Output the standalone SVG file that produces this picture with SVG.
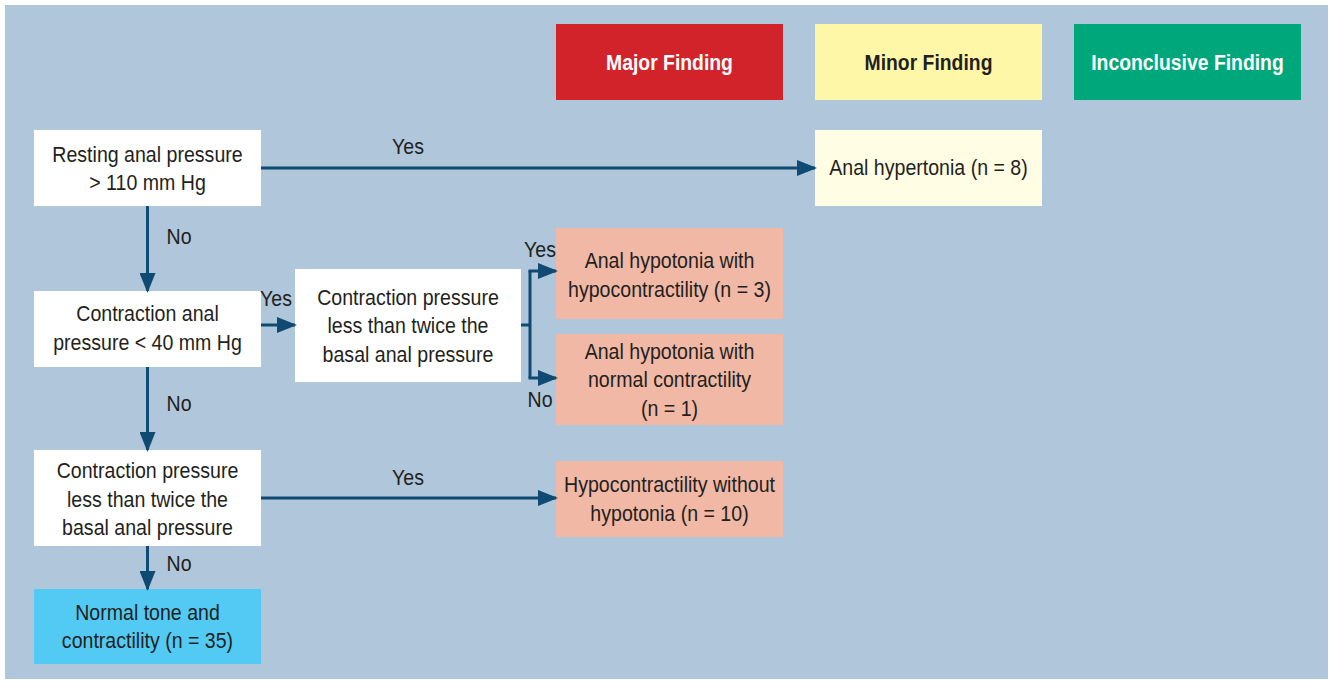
<svg xmlns="http://www.w3.org/2000/svg" width="1330" height="683" viewBox="0 0 1330 683">
<style>
text{font-family:"Liberation Sans",Arial,sans-serif;font-size:22px;fill:#231f20;text-anchor:middle}
.h{font-weight:bold}
.w{fill:#ffffff}
.c{fill:none;stroke:#0e4a72;stroke-width:3}
</style>
<defs>
<marker id="ah" markerUnits="userSpaceOnUse" markerWidth="20" markerHeight="16" refX="18" refY="8" orient="auto">
<path d="M0,0 L20,8 L0,16 Z" fill="#0e4a72"/>
</marker>
</defs>
<rect x="0" y="0" width="1330" height="683" fill="#ffffff"/>
<rect x="5" y="5" width="1323" height="674" fill="#b0c6da"/>
<g id="major"><rect x="556" y="24" width="227" height="76" fill="#d2232a"/><text class="h w" transform="translate(669.5,70) scale(0.88,1)">Major Finding</text></g>
<g id="minor"><rect x="815" y="24" width="227" height="76" fill="#fff7a8"/><text class="h" transform="translate(928.5,70) scale(0.88,1)">Minor Finding</text></g>
<g id="inconclusive"><rect x="1074" y="24" width="227" height="76" fill="#00a77a"/><text class="h w" transform="translate(1187.5,70) scale(0.88,1)">Inconclusive Finding</text></g>
<g id="resting"><rect x="34" y="130" width="227" height="76" fill="#ffffff"/><text transform="translate(147.5,162) scale(0.89,1)">Resting anal pressure</text><text transform="translate(147.5,190) scale(0.89,1)">&gt; 110 mm Hg</text></g>
<g id="hypertonia"><rect x="815" y="130" width="227" height="76" fill="#fffde3"/><text transform="translate(928.5,175) scale(0.89,1)">Anal hypertonia (n = 8)</text></g>
<g id="contraction"><rect x="34" y="291" width="227" height="76" fill="#ffffff"/><text transform="translate(147.5,321) scale(0.89,1)">Contraction anal</text><text transform="translate(147.5,350) scale(0.89,1)">pressure &lt; 40 mm Hg</text></g>
<g id="twice1"><rect x="295" y="269" width="226" height="113" fill="#ffffff"/><text transform="translate(408,305) scale(0.89,1)">Contraction pressure</text><text transform="translate(408,333) scale(0.89,1)">less than twice the</text><text transform="translate(408,362) scale(0.89,1)">basal anal pressure</text></g>
<g id="hypo-hypo"><rect x="556" y="228" width="227" height="91" fill="#f0b8a5"/><text transform="translate(669.5,268) scale(0.89,1)">Anal hypotonia with</text><text transform="translate(669.5,297) scale(0.89,1)">hypocontractility (n = 3)</text></g>
<g id="hypo-normal"><rect x="556" y="334" width="227" height="91" fill="#f0b8a5"/><text transform="translate(669.5,359) scale(0.89,1)">Anal hypotonia with</text><text transform="translate(669.5,387) scale(0.89,1)">normal contractility</text><text transform="translate(669.5,416) scale(0.89,1)">(n = 1)</text></g>
<g id="twice2"><rect x="34" y="450" width="227" height="96" fill="#ffffff"/><text transform="translate(147.5,478) scale(0.89,1)">Contraction pressure</text><text transform="translate(147.5,507) scale(0.89,1)">less than twice the</text><text transform="translate(147.5,535) scale(0.89,1)">basal anal pressure</text></g>
<g id="hypocontract"><rect x="556" y="461" width="227" height="76" fill="#f0b8a5"/><text transform="translate(669.5,492) scale(0.89,1)">Hypocontractility without</text><text transform="translate(669.5,521) scale(0.89,1)">hypotonia (n = 10)</text></g>
<g id="normal"><rect x="34" y="589" width="227" height="75" fill="#52caf4"/><text transform="translate(147.5,620) scale(0.89,1)">Normal tone and</text><text transform="translate(147.5,648) scale(0.89,1)">contractility (n = 35)</text></g>
<g id="connectors">
<path class="c" d="M261,168 H815" marker-end="url(#ah)"/>
<path class="c" d="M147.5,206 V291" marker-end="url(#ah)"/>
<path class="c" d="M261,325 H295" marker-end="url(#ah)"/>
<path class="c" d="M521,325 H530"/>
<path class="c" d="M530,271 V378"/>
<path class="c" d="M528.5,271 H556" marker-end="url(#ah)"/>
<path class="c" d="M528.5,378 H556" marker-end="url(#ah)"/>
<path class="c" d="M147.5,367 V450" marker-end="url(#ah)"/>
<path class="c" d="M261,498 H556" marker-end="url(#ah)"/>
<path class="c" d="M147.5,546 V589" marker-end="url(#ah)"/>
<text transform="translate(408,154) scale(0.89,1)">Yes</text>
<text transform="translate(179,244) scale(0.89,1)">No</text>
<text transform="translate(276,306) scale(0.89,1)">Yes</text>
<text transform="translate(540,257) scale(0.89,1)">Yes</text>
<text transform="translate(540,407) scale(0.89,1)">No</text>
<text transform="translate(179,411) scale(0.89,1)">No</text>
<text transform="translate(408,485) scale(0.89,1)">Yes</text>
<text transform="translate(179,571) scale(0.89,1)">No</text>
</g>
</svg>
